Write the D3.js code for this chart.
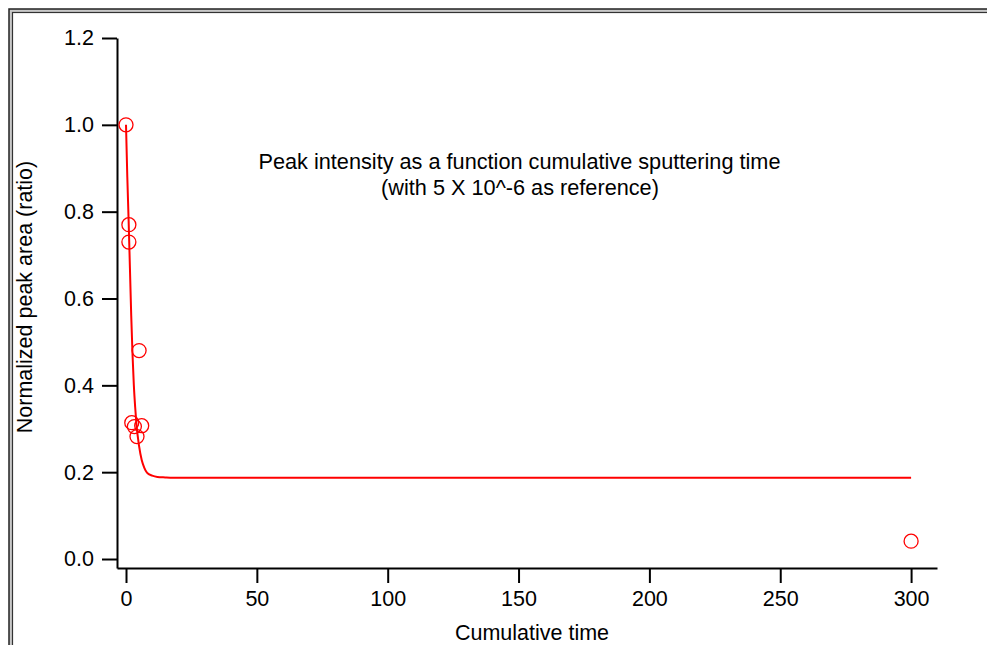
<!DOCTYPE html>
<html>
<head>
<meta charset="utf-8">
<script src="https://cdn.jsdelivr.net/npm/d3@7"></script>
<style>
  html, body { margin: 0; padding: 0; background: #fff; overflow: hidden; }
  text { font-family: "Liberation Sans", Arial, sans-serif; fill: #000; }
</style>
</head>
<body>
<div id="chart"></div>
<script>
// measured points
const timeVals = [0, 1.1, 1.1, 5, 2.2, 3.2, 4.2, 6, 300];
const areaVals = [1.0, 0.77, 0.73, 0.48, 0.314, 0.305, 0.282, 0.307, 0.041];

// fit curve
const fitTime = [0, 0.5, 1, 1.5, 2, 2.5, 3, 3.5, 4, 5, 6, 7, 8, 10, 12, 15, 20, 300];
const fitArea = [1.0, 0.88, 0.78, 0.67, 0.56, 0.47, 0.40, 0.35, 0.31, 0.26, 0.228, 0.21, 0.199, 0.192, 0.189, 0.188, 0.187, 0.187];

const xTicks = [0, 50, 100, 150, 200, 250, 300];
const yTicks = [0, 0.2, 0.4, 0.6, 0.8, 1.0, 1.2];

const titleLines = ["Peak intensity as a function cumulative sputtering time",
                    "(with 5 X 10^-6 as reference)"];

const width = 987, height = 645;
const svg = d3.select("#chart").append("svg")
    .attr("width", width)
    .attr("height", height);

// double frame
svg.append("rect").attr("x", 10.5).attr("y", 10.5).attr("width", 1000).attr("height", 700)
    .attr("fill", "none").attr("stroke", "#c8c8c8").attr("stroke-width", 3);
svg.append("rect").attr("x", 9).attr("y", 9).attr("width", 1000).attr("height", 700)
    .attr("fill", "none").attr("stroke", "#222").attr("stroke-width", 1.5);
svg.append("rect").attr("x", 12.5).attr("y", 12.5).attr("width", 1000).attr("height", 700)
    .attr("fill", "none").attr("stroke", "#333").attr("stroke-width", 1.2);

const x = d3.scaleLinear().domain([-3.44, 309.9]).range([117, 937]);
const y = d3.scaleLinear().domain([-0.0207, 1.2]).range([568, 38]);

const xAxis = svg.append("g")
    .attr("transform", "translate(0,568)")
    .call(d3.axisBottom(x).tickValues(xTicks).tickSize(15).tickSizeOuter(0).tickPadding(8)
        .tickFormat(d3.format("d")));
const yAxis = svg.append("g")
    .attr("transform", "translate(117,0)")
    .call(d3.axisLeft(y).tickValues(yTicks).tickSize(15).tickSizeOuter(0).tickPadding(8)
        .tickFormat(d3.format(".1f")));

[xAxis, yAxis].forEach(g => {
    g.selectAll("path, line").attr("stroke", "#000").attr("stroke-width", 2);
    g.selectAll("text").attr("font-size", 21.5).attr("font-family", "Liberation Sans, Arial, sans-serif");
});

svg.append("text")
    .attr("x", 532).attr("y", 640)
    .attr("text-anchor", "middle")
    .attr("font-size", 21.5)
    .text("Cumulative time");

svg.append("text")
    .attr("transform", "translate(32,297) rotate(-90)")
    .attr("text-anchor", "middle")
    .attr("font-size", 21.5)
    .text("Normalized peak area (ratio)");

const line = d3.line()
    .x((d, i) => x(fitTime[i]))
    .y(d => y(d))
    .curve(d3.curveMonotoneX);

svg.append("path")
    .datum(fitArea)
    .attr("d", line)
    .attr("fill", "none")
    .attr("stroke", "#ff0000")
    .attr("stroke-width", 2);

svg.selectAll(".pt")
    .data(areaVals)
    .enter()
    .append("circle")
    .attr("class", "pt")
    .attr("cx", (d, i) => x(timeVals[i]))
    .attr("cy", d => y(d))
    .attr("r", 7)
    .attr("fill", "none")
    .attr("stroke", "#ff0000")
    .attr("stroke-width", 1.3);

svg.selectAll(".note")
    .data(titleLines)
    .enter()
    .append("text")
    .attr("class", "note")
    .attr("x", (d, i) => i == 0 ? 519.5 : 520)
    .attr("y", (d, i) => 169 + i * 26)
    .attr("text-anchor", "middle")
    .attr("font-size", 21.7)
    .text(d => d);
</script>
</body>
</html>
